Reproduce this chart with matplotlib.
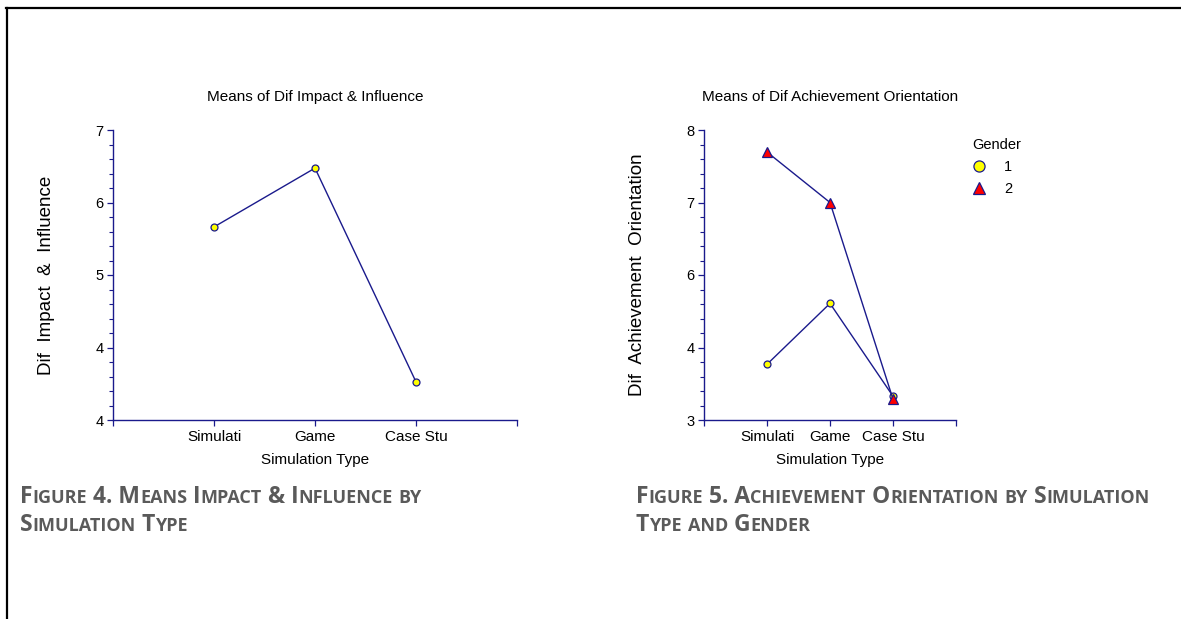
# plot.py
# Means plots of two competency scores by simulation type (figures 4 and 5)

import matplotlib
matplotlib.use('Agg')
import matplotlib.pyplot as plt
from matplotlib.lines import Line2D
from matplotlib.ticker import AutoMinorLocator
import numpy as np

# data
categories = ['Simulati', 'Game', 'Case Stu']
impact_means = [5.83, 6.54, 3.96]
achieve_gender1 = [3.96, 5.01, 3.41]
achieve_gender2 = [7.62, 6.75, 3.36]
gender_labels = ['1', '2']

left_ylim = (3.5, 7.0)
left_ylabels = ['4', '4', '5', '6', '7']
right_ylim = (3.0, 8.0)
right_ylabels = ['3', '4', '6', '7', '8']

caption4 = ['Figure 4. Means Impact & Influence by', 'Simulation Type']
caption5 = ['Figure 5. Achievement Orientation by Simulation', 'Type and Gender']

NAVY = '#1a1a8c'
CAPTION_GREY = '#5a5a5a'
W, H = 1181, 619

plt.rcParams['font.family'] = ['Liberation Sans', 'DejaVu Sans']
NARROW = ['Liberation Sans Narrow', 'Liberation Sans', 'DejaVu Sans']

fig = plt.figure(figsize=(W / 100, H / 100), dpi=100)


def px_axes(x0, y0, x1, y1):
    """Axes from pixel box (top-left origin)."""
    return fig.add_axes([x0 / W, 1 - y1 / H, (x1 - x0) / W, (y1 - y0) / H])


def style_axes(ax, ylim, ylabels, ylabel, title):
    ax.set_xlim(0, 4)
    ax.set_ylim(*ylim)
    ax.set_xticks(np.arange(len(categories) + 2))
    ax.set_xticklabels([''] + categories + [''], fontsize=11)
    ax.set_yticks(np.linspace(ylim[0], ylim[1], len(ylabels)))
    ax.set_yticklabels(ylabels, fontsize=10.5)
    ax.yaxis.set_minor_locator(AutoMinorLocator(5))
    for side in ['top', 'right']:
        ax.spines[side].set_visible(False)
    for side in ['left', 'bottom']:
        ax.spines[side].set_color(NAVY)
        ax.spines[side].set_linewidth(1.0)
    ax.tick_params(axis='both', which='major', color=NAVY, length=4, width=0.9, pad=3)
    ax.tick_params(axis='y', which='minor', color=NAVY, length=3, width=0.8)
    ax.set_ylabel(ylabel, fontsize=13.5, labelpad=29)
    ax.set_xlabel('Simulation Type', fontsize=11, family=NARROW, labelpad=7)
    ax.set_title(title, fontsize=11, family=NARROW, pad=21)
    ax.patch.set_alpha(0)


def small_caps(x, y, text, big=16.5, small=13.0):
    """Draw bold small caps text starting at pixel (x, y) baseline."""
    renderer = fig.canvas.get_renderer()
    runs = []
    for ch in text:
        is_small = ch.islower()
        if runs and runs[-1][1] == is_small:
            runs[-1][0] += ch
        else:
            runs.append([ch, is_small])
    for chunk, is_small in runs:
        t = fig.text(x / W, 1 - y / H, chunk.upper(), fontsize=small if is_small else big,
                     fontweight='bold', color=CAPTION_GREY, family=['Open Sans', 'DejaVu Sans'],
                     ha='left', va='baseline')
        x += t.get_window_extent(renderer).width


# figure 4
ax1 = px_axes(113, 130, 517, 420)
ax1.plot(range(1, 4), impact_means, color=NAVY, lw=1.0, marker='o', ms=5,
         mfc='yellow', mec=NAVY, mew=0.9)
style_axes(ax1, left_ylim, left_ylabels, 'Dif  Impact  &  Influence',
           'Means of Dif Impact & Influence')

# figure 5
ax2 = px_axes(704, 130, 956, 420)
ax2.plot(range(1, 4), achieve_gender1, color=NAVY, lw=1.0, marker='o', ms=5,
         mfc='yellow', mec=NAVY, mew=0.9)
ax2.plot(range(1, 4), achieve_gender2, color=NAVY, lw=1.0, marker='^', ms=7,
         mfc='red', mec=NAVY, mew=0.9)
style_axes(ax2, right_ylim, right_ylabels, 'Dif  Achievement  Orientation',
           'Means of Dif Achievement Orientation')

handles = [Line2D([], [], ls='none', marker='o', ms=8, mfc='yellow', mec=NAVY, mew=0.9),
           Line2D([], [], ls='none', marker='^', ms=8, mfc='red', mec=NAVY, mew=0.9)]
leg = fig.legend(handles, gender_labels, title='Gender', loc='upper left',
                 bbox_to_anchor=(962 / W, 1 - 128 / H), frameon=False, fontsize=10.5,
                 title_fontsize=10.5, handlelength=1.0, handletextpad=1.2,
                 labelspacing=0.55, borderpad=0.2)
leg._legend_box.align = 'left'

# captions
small_caps(20, 503, caption4[0])
small_caps(20, 531, caption4[1])
small_caps(636, 503, caption5[0])
small_caps(636, 531, caption5[1])

# page frame (left and top rule)
fig.add_artist(Line2D([6.5 / W, 6.5 / W], [0, 1 - 8 / H], color='black', lw=1.6,
                      transform=fig.transFigure))
fig.add_artist(Line2D([6 / W, 1], [1 - 8 / H, 1 - 8 / H], color='black', lw=1.6,
                      transform=fig.transFigure))

fig.savefig('out.png', dpi=100)
